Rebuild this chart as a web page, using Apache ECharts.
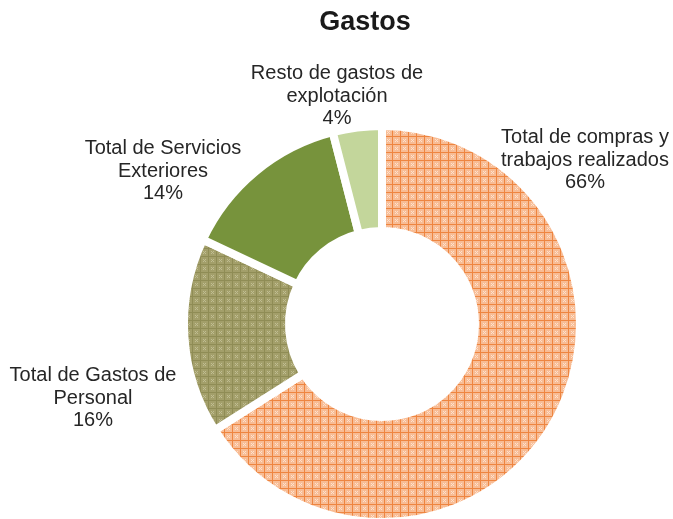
<!DOCTYPE html>
<html>
<head>
<meta charset="utf-8">
<script src="https://cdn.jsdelivr.net/npm/echarts@6/dist/echarts.min.js"></script>
<style>
html,body{margin:0;padding:0;background:#fff;}
#c{width:673px;height:519px;}
</style>
</head>
<body>
<div id="c"></div>
<script>
const categories = ['Total de compras y\ntrabajos realizados', 'Total de Gastos de\nPersonal', 'Total de Servicios\nExteriores', 'Resto de gastos de\nexplotación'];
const values = [66, 16, 14, 4];

function makePattern(bg, line, dot) {
  const c = document.createElement('canvas');
  c.width = 8; c.height = 8;
  const g = c.getContext('2d');
  g.fillStyle = bg; g.fillRect(0, 0, 8, 8);
  g.fillStyle = line;
  g.fillRect(0, 0, 8, 1);
  g.fillRect(0, 0, 1, 8);
  g.fillStyle = dot;
  g.fillRect(3, 3, 1, 1); g.fillRect(5, 3, 1, 1);
  g.fillRect(3, 5, 1, 1); g.fillRect(5, 5, 1, 1);
  g.fillRect(4, 4, 1, 1);
  return { image: c, repeat: 'repeat' };
}

const colors = [
  makePattern('#f8bc94', '#ee8540', '#fde0cc'),
  makePattern('#a39f6a', '#8f8c55', '#c0bd92'),
  '#77933c',
  '#c3d69b'
];
const labelPos = [[585, 160], [93, 398], [163, 171], [337, 96]];

const chart = echarts.init(document.getElementById('c'), null, { renderer: 'canvas' });
chart.setOption({
  animation: false,
  backgroundColor: '#ffffff',
  title: {
    text: 'Gastos', left: 360, top: 4, textAlign: 'center',
    textStyle: { fontFamily: 'Liberation Sans, Arial, sans-serif', fontWeight: 'bold', fontSize: 27, color: '#1a1a1a' }
  },
  series: [{
    type: 'pie',
    center: [382, 324],
    radius: [93, 198],
    startAngle: 90,
    clockwise: true,
    avoidLabelOverlap: false,
    data: categories.map((n, i) => ({ name: n, value: values[i], itemStyle: { color: colors[i] } })),
    itemStyle: { borderColor: '#ffffff', borderWidth: 8 },
    label: {
      show: true,
      position: 'outside',
      formatter: p => p.name + '\n' + p.value + '%',
      fontFamily: 'Liberation Sans, Arial, sans-serif',
      fontSize: 20,
      lineHeight: 22.5,
      color: '#262626',
      align: 'center'
    },
    labelLine: { show: false },
    labelLayout: function (params) {
      const p = labelPos[params.dataIndex];
      return { x: p[0], y: p[1], align: 'center', verticalAlign: 'middle' };
    },
    emphasis: { disabled: true }
  }]
});
</script>
</body>
</html>
